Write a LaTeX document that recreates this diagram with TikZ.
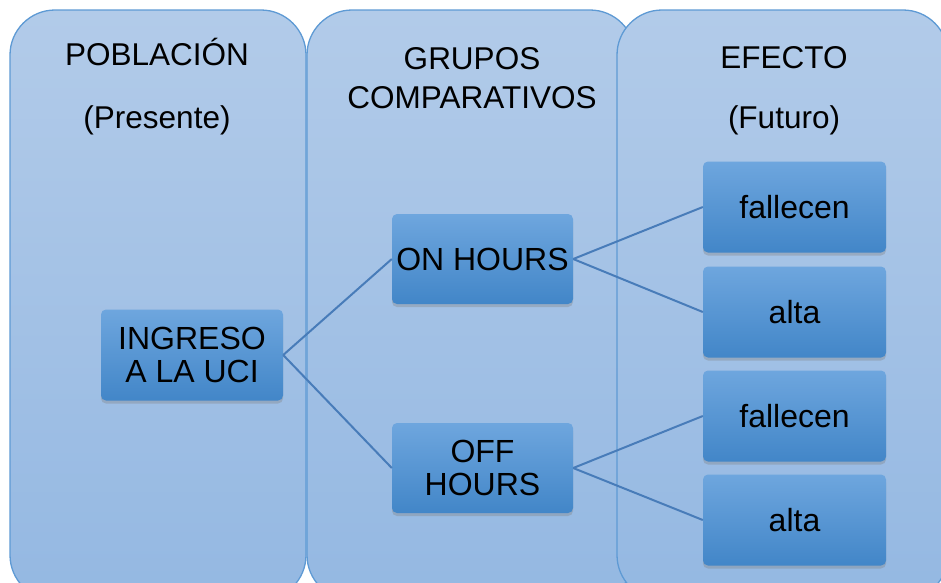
\documentclass[tikz,border=0pt]{standalone}
\usepackage{fontspec}
\setmainfont{Liberation Sans}
\usetikzlibrary{shadows}
\definecolor{panelTop}{RGB}{178,203,233}
\definecolor{panelBot}{RGB}{148,184,226}
\definecolor{panelLine}{RGB}{94,154,212}
\definecolor{boxTop}{RGB}{110,166,222}
\definecolor{boxBot}{RGB}{66,134,200}
\definecolor{linkC}{RGB}{72,124,185}
\begin{document}
\begin{tikzpicture}[x=1pt,y=-1pt,
  panel/.style={draw=panelLine,line width=1.3pt,rounded corners=45pt,top color=panelTop,bottom color=panelBot},
  box/.style={rounded corners=5pt,top color=boxTop,bottom color=boxBot,minimum width=182pt,minimum height=91pt,
    align=center,inner sep=2pt,font=\fontsize{32}{33}\selectfont,
    drop shadow={shadow xshift=0pt,shadow yshift=-3pt,opacity=0.35}},
  head/.style={font=\fontsize{31.5}{40}\selectfont,anchor=base,align=center,inner sep=0pt},
  link/.style={draw=linkC,line width=2pt}]
\clip (0,0) rectangle (941,582);
\useasboundingbox (0,0) rectangle (941,582);
% panels
\draw[panel] (10,10) rectangle (306,600);
\draw[panel] (307,10) rectangle (635,600);
\draw[panel] (617,10) rectangle (948,600);
% headers
\node[head] (pob) at (157,65) {POBLACIÓN};
\node[head] (pres) at (157,128) {(Presente)};
\node[head] (grp) at (472,69) {GRUPOS};
\node[head] (comp) at (472,108) {COMPARATIVOS};
\node[head] (efe) at (784,68) {EFECTO};
\node[head] (fut) at (784,128) {(Futuro)};
% boxes
\node[box] (ing) at (192,355) {INGRESO\\A LA UCI};
\node[box,minimum width=181pt,minimum height=90pt] (on) at (482.5,259) {ON HOURS};
\node[box,minimum width=181pt,minimum height=90pt] (off) at (482.5,468) {OFF\\HOURS};
\node[box,minimum width=183pt] (f1) at (794.5,207) {fallecen};
\node[box,minimum width=183pt] (a1) at (794.5,312) {alta};
\node[box,minimum width=183pt] (f2) at (794.5,416) {fallecen};
\node[box,minimum width=183pt] (a2) at (794.5,520) {alta};
% connectors
\draw[link] (ing.east) -- (on.west);
\draw[link] (ing.east) -- (off.west);
\draw[link] (on.east) -- (f1.west);
\draw[link] (on.east) -- (a1.west);
\draw[link] (off.east) -- (f2.west);
\draw[link] (off.east) -- (a2.west);
\end{tikzpicture}
\end{document}
